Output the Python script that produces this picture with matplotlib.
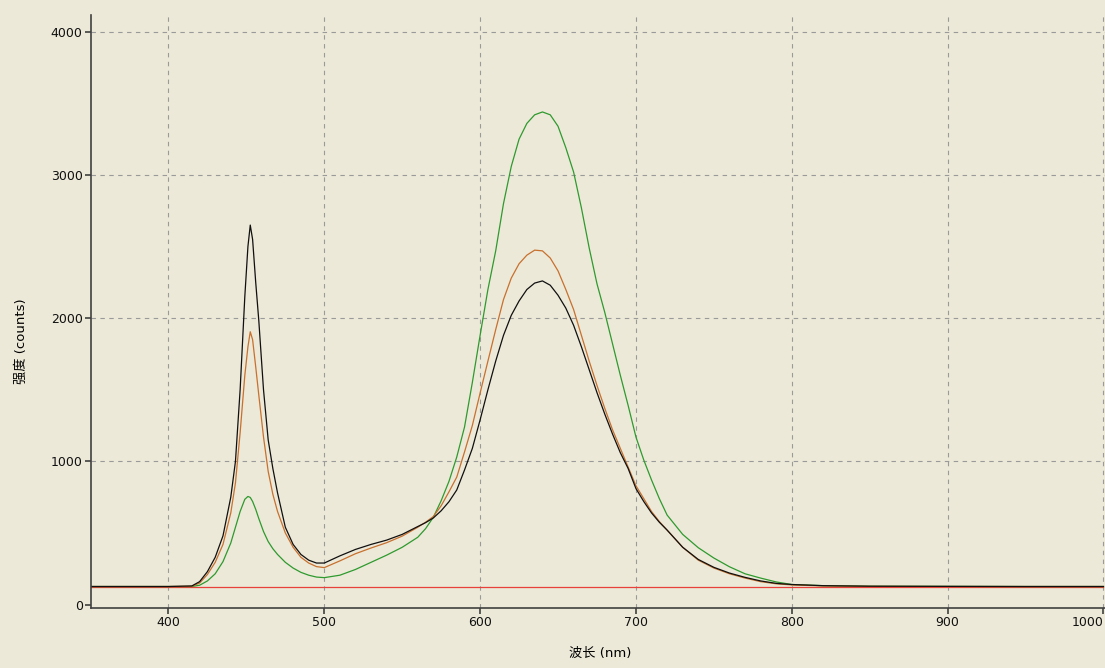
import numpy as np
import matplotlib
matplotlib.use("Agg")
import matplotlib.pyplot as plt

plt.rcParams['font.family'] = ['DejaVu Sans', 'Noto Sans CJK SC']

# wavelength grid (nm)
wl = [350, 400, 415, 420, 425, 430, 435, 440, 443, 446, 449, 451, 452.5, 454, 456, 458,
      461, 464, 467, 470, 475, 480, 485, 490, 495, 500, 510, 520, 530, 540, 550, 560,
      565, 570, 575, 580, 585, 590, 595, 600, 605, 610, 615, 620, 625, 630, 635, 640, 645, 650,
      655, 660, 665, 670, 675, 680, 685, 690, 695, 700, 705, 710, 715, 720, 730, 740, 750,
      760, 770, 780, 790, 800, 820, 850, 900, 950, 1000]

black = [126, 126, 130, 160, 230, 330, 480, 750, 1000, 1500, 2150, 2500, 2650, 2550, 2250, 1980,
         1500, 1150, 950, 780, 540, 420, 350, 310, 290, 290, 340, 385, 420, 450, 490, 545,
         572, 605, 655, 718, 800, 940, 1090, 1290, 1500, 1700, 1880, 2020, 2120, 2200, 2245, 2260, 2230, 2160,
         2070, 1950, 1800, 1640, 1480, 1330, 1190, 1060, 950, 810, 720, 640, 575, 520, 400, 315, 260,
         220, 190, 165, 148, 140, 132, 128, 127, 126, 126]

orange = [126, 126, 128, 150, 210, 295, 420, 640, 850, 1200, 1600, 1800, 1905, 1850, 1660, 1460,
          1170, 930, 770, 650, 500, 400, 330, 290, 265, 258, 305, 355, 395, 432, 478, 540,
          575, 615, 690, 787, 890, 1066, 1250, 1477, 1700, 1920, 2130, 2280, 2380, 2440, 2475, 2470, 2420, 2330,
          2200, 2060, 1880, 1700, 1530, 1370, 1220, 1090, 960, 830, 740, 650, 580, 520, 400, 310, 255,
          215, 185, 160, 145, 137, 130, 127, 126, 126, 126]

green = [126, 126, 126, 135, 165, 215, 300, 430, 540, 650, 735, 755, 748, 720, 665, 600,
         510, 440, 390, 350, 295, 255, 225, 205, 192, 188, 205, 245, 295, 345, 400, 470,
         530, 610, 725, 860, 1030, 1240, 1550, 1880, 2200, 2470, 2800, 3060, 3250, 3360, 3420, 3440, 3420, 3340,
         3190, 3020, 2770, 2490, 2240, 2040, 1820, 1600, 1390, 1170, 1010, 870, 740, 625, 490, 397, 325,
         264, 215, 185, 158, 140, 132, 128, 127, 126, 126]

red_wl = [350, 1000]
red = [123, 123]

xticks = [400, 500, 600, 700, 800, 900, 1000]
yticks = [0, 1000, 2000, 3000, 4000]

bg = '#ECE9D8'
fig = plt.figure(figsize=(11.05, 6.68), dpi=100, facecolor=bg)
ax = fig.add_axes([91/1105, 60/668, 1014/1105, 593/668])
ax.set_facecolor(bg)

ax.plot(red_wl, red, color='#E8403A', lw=0.9)
ax.plot(wl, green, color='#2E9A2E', lw=0.9)
ax.plot(wl, orange, color='#C8702E', lw=0.9)
ax.plot(wl, black, color='#101010', lw=0.9)

ax.set_xlim(350.3, 1001)
ax.set_ylim(-24, 4117)
ax.set_xticks(xticks)
ax.set_yticks(yticks)

ax.grid(True, color='#9a9a9a', linestyle=(0, (4, 4)), linewidth=0.8)
ax.yaxis.get_gridlines()[0].set_visible(False)

for s in ['top', 'right']:
    ax.spines[s].set_visible(False)
for s in ['left', 'bottom']:
    ax.spines[s].set_color('#404040')
    ax.spines[s].set_linewidth(1.2)

ax.tick_params(direction='out', length=4, width=1.2, color='#404040',
               labelsize=9, labelcolor='#111111', pad=2)
# last x label sits against the right edge, as in the original
ax.get_xticklabels()[-1].set_horizontalalignment('right')

ax.set_xlabel('波长 (nm)', fontsize=9.5)
ax.set_ylabel('强度 (counts)', fontsize=9.5)
ax.xaxis.set_label_coords(0.502, -0.065)
ax.yaxis.set_label_coords(-0.062, 0.45)

fig.savefig('out.png', dpi=100, facecolor=bg)
